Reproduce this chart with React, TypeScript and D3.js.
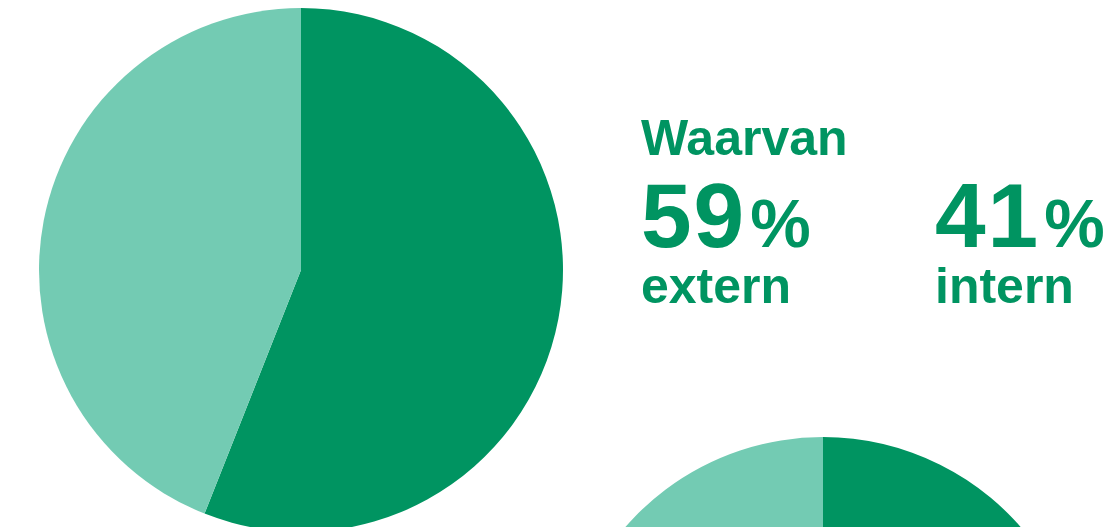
import React, { useEffect, useRef } from 'react';
import * as d3 from 'd3';

// share of each pie: [dark, light]
const totalShares = [56, 44];
const splitShares = [59, 41];
const sliceColors = ['#009461', '#73cbb3'];

const labels = [
    { value: '59', unit: '%', text: 'extern' },
    { value: '41', unit: '%', text: 'intern' },
];
const heading = 'Waarvan';

const W = 1112;
const H = 527;
const green = '#009461';

const App: React.FC = () => {
    const svgRef = useRef<SVGSVGElement>(null);

    useEffect(() => {
        document.body.style.margin = '0';
        if (!svgRef.current) return;
        const svg = d3.select(svgRef.current);
        svg.selectAll('*').remove();

        const radius = 262;
        const pie = d3.pie<number>().sort(null).value(d => d);
        const arc = d3.arc<d3.PieArcDatum<number>>().innerRadius(0).outerRadius(radius);

        const drawPie = (values: number[], cx: number, cy: number) => {
            const g = svg.append('g').attr('transform', `translate(${cx},${cy})`);
            g.selectAll('path')
                .data(pie(values))
                .join('path')
                .attr('d', arc)
                .attr('fill', (_, i) => sliceColors[i]);
        };

        drawPie(totalShares, 301, 270);
        drawPie(splitShares, 823, 699);

        const font = '"Liberation Sans", Arial, sans-serif';

        svg.append('text')
            .attr('x', 641)
            .attr('y', 155)
            .attr('fill', green)
            .style('font-family', font)
            .style('font-weight', 'bold')
            .style('font-size', '50px')
            .text(heading);

        const colX = [641, 935];
        labels.forEach((l, i) => {
            const t = svg.append('text')
                .attr('x', colX[i])
                .attr('y', 247)
                .attr('fill', green)
                .style('font-family', font)
                .style('font-weight', 'bold');
            t.append('tspan')
                .style('font-size', '91px')
                .style('letter-spacing', '2px')
                .text(l.value);
            t.append('tspan').attr('dx', 4).style('font-size', '68px').text(l.unit);
            t.append('tspan')
                .attr('x', colX[i])
                .attr('y', 303)
                .style('font-size', '50px')
                .text(l.text);
        });
    }, []);

    return (
        <div style={{ width: W, height: H, overflow: 'hidden', background: '#fff' }}>
            <svg ref={svgRef} width={W} height={H} />
        </div>
    );
};

export default App;
